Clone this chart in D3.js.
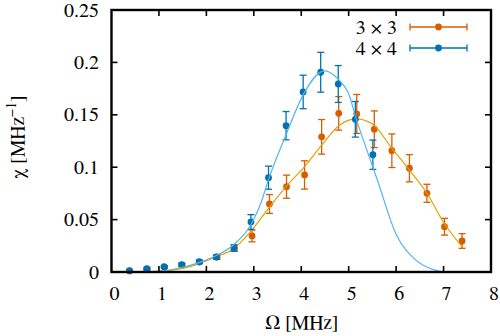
<!DOCTYPE html>
<html>
<head>
<meta charset="utf-8">
<script src="https://cdn.jsdelivr.net/npm/d3@7/dist/d3.min.js"></script>
<style>
  body { margin: 0; background: #fff; }
  svg text { font-family: "FreeSerif", "Nimbus Roman", "Tinos", "DejaVu Serif", serif; }
</style>
</head>
<body>
<svg id="chart" width="500" height="336"></svg>
<script>
// 3x3 lattice, measured susceptibility
const omega3 = [0.38, 0.749, 1.118, 1.487, 1.856, 2.225, 2.594, 2.963, 3.33, 3.69,
  4.07, 4.43, 4.79, 5.17, 5.54, 5.91, 6.28, 6.65, 7.02, 7.39];
const chi3 = [0.001, 0.0028, 0.0045, 0.0065, 0.0095, 0.0143, 0.0229, 0.0344, 0.0649, 0.0814,
  0.0926, 0.129, 0.1514, 0.1508, 0.1362, 0.1157, 0.099, 0.0751, 0.0432, 0.0296];
const err3 = [0.001, 0.001, 0.001, 0.0015, 0.0015, 0.002, 0.003, 0.0056, 0.009, 0.011,
  0.0135, 0.0165, 0.016, 0.0186, 0.0175, 0.016, 0.013, 0.0086, 0.008, 0.007];

// 4x4 lattice
const omega4 = [0.38, 0.745, 1.11, 1.48, 1.85, 2.21, 2.58, 2.94, 3.31, 3.68,
  4.04, 4.41, 4.78, 5.14, 5.51];
const chi4 = [0.0012, 0.0031, 0.005, 0.007, 0.0098, 0.0143, 0.0229, 0.0477, 0.090, 0.1396,
  0.1718, 0.1906, 0.1794, 0.1457, 0.1119];
const err4 = [0.001, 0.001, 0.001, 0.0015, 0.0015, 0.002, 0.003, 0.007, 0.011, 0.0135,
  0.016, 0.019, 0.0176, 0.017, 0.014];

// fitted curves, sampled off the figure
const fitOmega3 = [0.38, 0.9, 1.5, 1.85, 2.21, 2.56, 2.94, 3.33, 3.69, 4.07, 4.43, 4.81,
  5.16, 5.51, 5.91, 6.28, 6.65, 7.02, 7.39];
const fitChi3 = [0, 0.0005, 0.0035, 0.008, 0.0146, 0.0217, 0.039, 0.062, 0.082, 0.1005, 0.121, 0.1403,
  0.1462, 0.141, 0.118, 0.0973, 0.0751, 0.046, 0.0241];
const fitOmega4 = [0.38, 0.8, 1.1, 1.5, 1.85, 2.2, 2.55, 2.95, 3.16, 3.3, 3.68, 4.05, 4.49,
  4.8, 5.0, 5.14, 5.37, 5.61, 6.0, 6.4, 6.8, 7.0];
const fitChi4 = [0, 0.0003, 0.001, 0.0045, 0.009, 0.0155, 0.025, 0.046, 0.067, 0.087, 0.131, 0.170, 0.192,
  0.183, 0.170, 0.149, 0.118, 0.087, 0.036, 0.012, 0.002, 0];

const xTicks = [0, 1, 2, 3, 4, 5, 6, 7, 8];
const yTicks = [0, 0.05, 0.1, 0.15, 0.2, 0.25];
const seriesNames = ['3 \u00d7 3', '4 \u00d7 4'];

const orange = '#d55e00', blue = '#0072b2';
const orangeFit = '#e69f00', blueFit = '#56b4e9';

const svg = d3.select('#chart');
const plotLeft = 111.5, plotRight = 491, plotTop = 10, plotBottom = 272;

const x = d3.scaleLinear().domain([0, 8]).range([plotLeft, plotRight]);
const y = d3.scaleLinear().domain([0, 0.25]).range([plotBottom, plotTop]);

const line = d3.line()
  .x((d) => x(d[0]))
  .y((d) => y(d[1]))
  .curve(d3.curveMonotoneX);

function drawSeries(xs, ys, es, color) {
  const g = svg.append('g');
  const pts = xs.map((v, i) => ({x: v, y: ys[i], e: es[i]}));
  const bars = g.selectAll('.err').data(pts).enter().append('g')
    .attr('stroke', color).attr('stroke-width', 1.3).attr('fill', 'none');
  bars.append('line')
    .attr('x1', (d) => x(d.x)).attr('x2', (d) => x(d.x))
    .attr('y1', (d) => y(d.y - d.e)).attr('y2', (d) => y(d.y + d.e));
  [-1, 1].forEach((s) => {
    bars.append('line')
      .attr('x1', (d) => x(d.x) - 3.5).attr('x2', (d) => x(d.x) + 3.5)
      .attr('y1', (d) => y(d.y + s * d.e)).attr('y2', (d) => y(d.y + s * d.e));
  });
  g.selectAll('circle').data(pts).enter().append('circle')
    .attr('cx', (d) => x(d.x)).attr('cy', (d) => y(d.y))
    .attr('r', 3.4).attr('fill', color);
}

function drawFit(xs, ys, color) {
  svg.append('path')
    .datum(xs.map((v, i) => [v, ys[i]]))
    .attr('d', line)
    .attr('fill', 'none')
    .attr('stroke', color)
    .attr('stroke-width', 1.2);
}

drawSeries(omega3, chi3, err3, orange);
drawFit(fitOmega3, fitChi3, orangeFit);
drawSeries(omega4, chi4, err4, blue);
drawFit(fitOmega4, fitChi4, blueFit);

// ticks, inward on all sides
const tickLen = 6;
const axes = svg.append('g').attr('stroke', '#000').attr('stroke-width', 1.6);
xTicks.slice(1, -1).forEach((t) => {
  axes.append('line').attr('x1', x(t)).attr('x2', x(t)).attr('y1', plotBottom).attr('y2', plotBottom - tickLen);
  axes.append('line').attr('x1', x(t)).attr('x2', x(t)).attr('y1', plotTop).attr('y2', plotTop + tickLen);
});
yTicks.slice(1, -1).forEach((t) => {
  axes.append('line').attr('x1', plotLeft).attr('x2', plotLeft + tickLen).attr('y1', y(t)).attr('y2', y(t));
  axes.append('line').attr('x1', plotRight).attr('x2', plotRight - tickLen).attr('y1', y(t)).attr('y2', y(t));
});
svg.append('rect')
  .attr('x', plotLeft).attr('y', plotTop)
  .attr('width', plotRight - plotLeft).attr('height', plotBottom - plotTop)
  .attr('fill', 'none').attr('stroke', '#000').attr('stroke-width', 2.4);

svg.append('g').selectAll('text').data(xTicks).enter().append('text')
  .attr('x', (d) => x(d) + 3).attr('y', 300)
  .attr('text-anchor', 'middle').attr('font-size', 20)
  .text((d) => d);

svg.append('g').selectAll('text').data(yTicks).enter().append('text')
  .attr('x', 99).attr('y', (d) => y(d) + 6.5)
  .attr('text-anchor', 'end').attr('font-size', 20)
  .text((d) => d3.format('~g')(d));

// axis titles
svg.append('text')
  .attr('x', 302).attr('y', 329)
  .attr('text-anchor', 'middle').attr('font-size', 20)
  .text('\u03a9 [MHz]');

const yt = svg.append('text')
  .attr('transform', 'translate(24,137) rotate(-90)')
  .attr('text-anchor', 'middle').attr('font-size', 20);
yt.append('tspan').text('\u03c7 [MHz');
yt.append('tspan').attr('dy', -8).attr('font-size', 14).text('\u22121');
yt.append('tspan').attr('dy', 8).text(']');

// legend
const legend = svg.append('g');
[[orange, 27], [blue, 48]].forEach(([c, ly], i) => {
  legend.append('text')
    .attr('x', 397).attr('y', ly + 6.5)
    .attr('text-anchor', 'end').attr('font-size', 20)
    .text(seriesNames[i]);
  const g = legend.append('g').attr('stroke', c).attr('stroke-width', 1.3);
  g.append('line').attr('x1', 410).attr('x2', 467).attr('y1', ly).attr('y2', ly);
  g.append('line').attr('x1', 410).attr('x2', 410).attr('y1', ly - 3.5).attr('y2', ly + 3.5);
  g.append('line').attr('x1', 467).attr('x2', 467).attr('y1', ly - 3.5).attr('y2', ly + 3.5);
  legend.append('circle').attr('cx', 438.5).attr('cy', ly).attr('r', 3.4).attr('fill', c);
});
</script>
</body>
</html>
